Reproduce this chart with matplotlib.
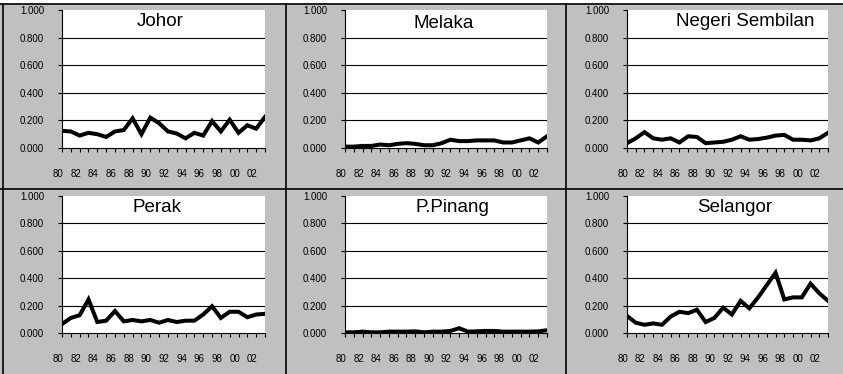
import numpy as np
import matplotlib.pyplot as plt
from matplotlib.lines import Line2D
from matplotlib.patches import Rectangle
from matplotlib.transforms import ScaledTranslation

plt.rcParams['font.family'] = ['Liberation Sans', 'DejaVu Sans']

years = list(range(1980, 2004))
year_labels = ['%02d' % (y % 100) if y % 2 == 0 else '' for y in years]

johor = [0.124, 0.120, 0.090, 0.110, 0.100, 0.080, 0.120, 0.130, 0.215, 0.100, 0.220, 0.180,
         0.120, 0.105, 0.070, 0.110, 0.090, 0.195, 0.120, 0.205, 0.110, 0.165, 0.140, 0.225]
melaka = [0.010, 0.010, 0.015, 0.015, 0.025, 0.020, 0.030, 0.035, 0.030, 0.020, 0.020, 0.035,
          0.060, 0.050, 0.050, 0.055, 0.055, 0.055, 0.040, 0.040, 0.055, 0.070, 0.040, 0.085]
negeri = [0.035, 0.070, 0.115, 0.070, 0.060, 0.070, 0.040, 0.085, 0.080, 0.035, 0.040, 0.045,
          0.060, 0.085, 0.060, 0.065, 0.075, 0.090, 0.095, 0.060, 0.060, 0.055, 0.070, 0.110]
perak = [0.065, 0.110, 0.130, 0.245, 0.080, 0.090, 0.160, 0.085, 0.095, 0.085, 0.095, 0.075,
         0.095, 0.080, 0.090, 0.090, 0.135, 0.195, 0.110, 0.155, 0.155, 0.115, 0.135, 0.140]
pinang = [0.005, 0.005, 0.010, 0.005, 0.005, 0.010, 0.010, 0.010, 0.012, 0.005, 0.010, 0.010,
          0.015, 0.035, 0.010, 0.012, 0.015, 0.015, 0.010, 0.010, 0.010, 0.010, 0.012, 0.020]
selangor = [0.125, 0.075, 0.060, 0.070, 0.060, 0.120, 0.155, 0.145, 0.170, 0.080, 0.110, 0.185,
            0.135, 0.235, 0.180, 0.260, 0.350, 0.440, 0.245, 0.260, 0.260, 0.360, 0.290, 0.235]

states = ['Johor', 'Melaka', 'Negeri Sembilan', 'Perak', 'P.Pinang', 'Selangor']
series = [johor, melaka, negeri, perak, pinang, selangor]

W, H = 843, 374
fig = plt.figure(figsize=(W / 100, H / 100), dpi=100)
fig.patch.set_facecolor('#c0c0c0')

# plot boxes in pixels: left, right, top, bottom
boxes = [(62, 265, 10, 148), (345, 547, 10, 148), (627, 828, 10, 148),
         (62, 265, 196, 333), (345, 547, 196, 333), (627, 828, 196, 333)]
# title centres in pixels
title_pos = [(160, 22), (444, 23), (745, 21), (157, 208), (452, 208), (735, 208)]

for name, vals, (x0, x1, y0, y1), (tx, ty) in zip(states, series, boxes, title_pos):
    ax = fig.add_axes([x0 / W, 1 - y1 / H, (x1 - x0) / W, (y1 - y0) / H])
    ax.set_facecolor('white')
    ax.plot(years, vals, color='black', lw=2.9, solid_joinstyle='miter')
    ax.set_xlim(years[0], years[-1])
    ax.set_ylim(0, 1)
    ax.set_yticks(np.arange(0, 1.01, 0.2))
    ax.set_yticklabels(['%.3f' % v for v in np.arange(0, 1.01, 0.2)])
    for g in [0.2, 0.4, 0.6, 0.8]:
        ax.axhline(g, color='black', lw=0.8, zorder=1)
    ax.set_xticks(years)
    ax.set_xticklabels(year_labels)
    for s in ['top', 'right']:
        ax.spines[s].set_visible(False)
    for s in ['left', 'bottom']:
        ax.spines[s].set_linewidth(0.8)
    ax.tick_params(axis='x', length=3, width=0.8, pad=12, labelsize=7)
    ax.tick_params(axis='y', length=3, width=0.8, pad=10, labelsize=7)
    shift = ScaledTranslation(-4 / 100, 0, fig.dpi_scale_trans)
    for lbl in ax.get_xticklabels():
        lbl.set_transform(lbl.get_transform() + shift)
    fig.text(tx / W, 1 - ty / H, name, ha='center', va='center', fontsize=13.5)

# white strip along the top and panel separators
fig.add_artist(Rectangle((0, 1 - 4 / H), 1, 4 / H, transform=fig.transFigure,
                         facecolor='white', edgecolor='none'))
sep = dict(color='black', lw=1.2, transform=fig.transFigure)
fig.add_artist(Line2D([0, 1], [1 - 4 / H] * 2, **sep))
fig.add_artist(Line2D([0, 1], [1 - 189 / H] * 2, **sep))
fig.add_artist(Line2D([3 / W] * 2, [0, 1 - 4 / H], **sep))
fig.add_artist(Line2D([286 / W] * 2, [0, 1 - 4 / H], **sep))
fig.add_artist(Line2D([566 / W] * 2, [0, 1 - 4 / H], **sep))

fig.savefig('out.png', dpi=100)
